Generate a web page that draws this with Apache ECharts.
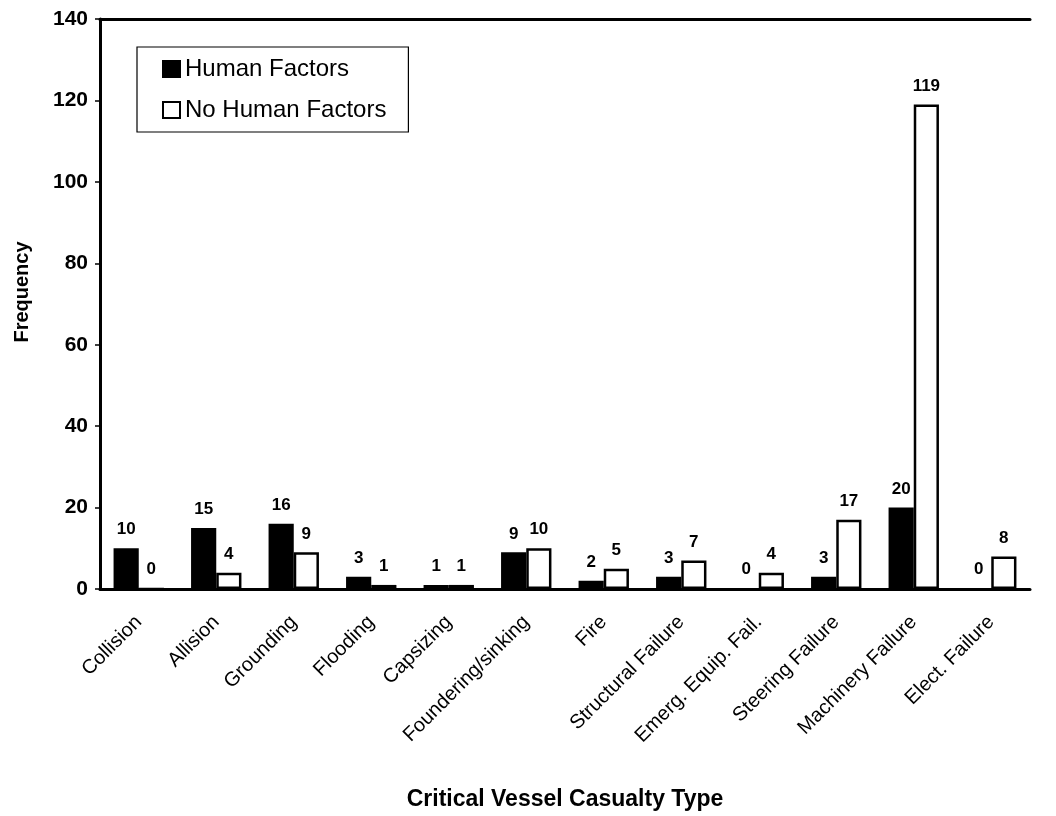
<!DOCTYPE html>
<html>
<head>
<meta charset="utf-8">
<script src="https://cdn.jsdelivr.net/npm/echarts@6/dist/echarts.min.js"></script>
<style>
  html, body { margin: 0; padding: 0; background: #fff; }
  #chart { width: 1056px; height: 816px; }
</style>
</head>
<body>
<div id="chart"></div>
<script>
// Casualty categories along the x axis
const categories = [
  'Collision', 'Allision', 'Grounding', 'Flooding', 'Capsizing',
  'Foundering/sinking', 'Fire', 'Structural Failure', 'Emerg. Equip. Fail.',
  'Steering Failure', 'Machinery Failure', 'Elect. Failure'
];
// Counts per category
const humanFactors   = [10, 15, 16, 3, 1, 9, 2, 3, 0, 3, 20, 0];
const noHumanFactors = [0, 4, 9, 1, 1, 10, 5, 7, 4, 17, 119, 8];
// Frequency axis range
const yMin = 0, yMax = 140, yStep = 20;

const FONT = '"Liberation Sans", Arial, Helvetica, sans-serif';
const chart = echarts.init(document.getElementById('chart'), null, { renderer: 'canvas' });

const labelStyle = {
  show: true,
  position: 'top',
  distance: 10,
  color: '#000',
  fontFamily: FONT,
  fontSize: 17,
  fontWeight: 'bold'
};

chart.setOption({
  animation: false,
  backgroundColor: '#fff',
  textStyle: { fontFamily: FONT, color: '#000' },
  grid: { left: 100, top: 19, width: 930, height: 575, containLabel: false },
  legend: {
    orient: 'vertical',
    left: 137,
    top: 47,
    padding: [10, 22, 10, 25],
    borderColor: '#000',
    borderWidth: 1.2,
    itemGap: 17,
    itemWidth: 17,
    itemHeight: 16,
    icon: 'rect',
    textStyle: { fontFamily: FONT, fontSize: 24, color: '#000', padding: [0, 0, 0, 0] },
    data: ['Human Factors', 'No Human Factors']
  },
  xAxis: [
    {
      type: 'category',
      data: categories,
      position: 'bottom',
      axisLine: { show: true, onZero: false, lineStyle: { color: '#000', width: 3 } },
      axisTick: { show: false },
      axisLabel: {
        rotate: 45,
        interval: 0,
        margin: 30,
        color: '#000',
        fontFamily: FONT,
        fontSize: 20
      },
      name: 'Critical Vessel Casualty Type',
      nameLocation: 'middle',
      nameGap: 199,
      nameTextStyle: { fontFamily: FONT, fontSize: 23, fontWeight: 'bold', color: '#000' }
    },
    {
      type: 'category',
      data: categories,
      position: 'top',
      axisLine: { show: true, onZero: false, lineStyle: { color: '#000', width: 3 } },
      axisTick: { show: false },
      axisLabel: { show: false }
    }
  ],
  yAxis: {
    type: 'value',
    min: yMin,
    max: yMax,
    interval: yStep,
    axisLine: { show: true, lineStyle: { color: '#000', width: 3 } },
    axisTick: { show: true, inside: false, length: 5, lineStyle: { color: '#000', width: 1.5 } },
    splitLine: { show: false },
    axisLabel: {
      color: '#000',
      fontFamily: FONT,
      fontSize: 21,
      fontWeight: 'bold',
      margin: 12
    },
    name: 'Frequency',
    nameLocation: 'middle',
    nameGap: 68,
    nameTextStyle: { fontFamily: FONT, fontSize: 20, fontWeight: 'bold', color: '#000', padding: [0, 0, 0, 24] }
  },
  series: [
    {
      name: 'Human Factors',
      type: 'bar',
      data: humanFactors,
      barGap: '0%',
      barCategoryGap: '35%',
      itemStyle: { color: '#000', borderColor: '#000', borderWidth: 2 },
      label: labelStyle
    },
    {
      name: 'No Human Factors',
      type: 'bar',
      data: noHumanFactors,
      itemStyle: { color: '#fff', borderColor: '#000', borderWidth: 2.5 },
      label: labelStyle
    }
  ]
});
</script>
</body>
</html>
